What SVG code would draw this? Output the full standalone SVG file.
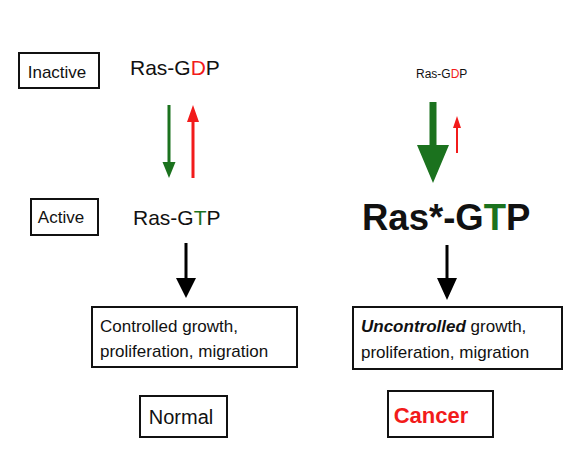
<svg xmlns="http://www.w3.org/2000/svg" width="582" height="469" viewBox="0 0 582 469">
<style>
text{font-family:"Liberation Sans",Arial,sans-serif;fill:#111}
.box{fill:#fff;stroke:#111;stroke-width:2}
.g{fill:#1b721e}
.r{fill:#f21b1b}
.k{fill:#000}
</style>
<rect width="582" height="469" fill="#fff"/>
<g id="inactive-label"><rect class="box" x="19" y="53" width="80" height="35"/><text x="57" y="78" font-size="17" text-anchor="middle">Inactive</text></g>
<g id="active-label"><rect class="box" x="31" y="199" width="67" height="36"/><text x="61" y="223" font-size="17" text-anchor="middle">Active</text></g>
<g id="ras-gdp-left"><text x="130" y="75" font-size="21">Ras-G<tspan fill="#f21b1b">D</tspan>P</text></g>
<g id="ras-gtp-left"><text x="133" y="225" font-size="21">Ras-G<tspan fill="#1b721e">T</tspan>P</text></g>
<g id="ras-gdp-right"><text x="416" y="78" font-size="12">Ras-G<tspan fill="#f21b1b">D</tspan>P</text></g>
<g id="ras-gtp-right"><text x="362" y="230" font-size="36.5" font-weight="bold">Ras*-G<tspan fill="#1b721e">T</tspan>P</text></g>
<g id="controlled"><rect class="box" x="92" y="307" width="205" height="60"/><text x="100" y="332" font-size="17">Controlled growth,</text><text x="100" y="357" font-size="17">proliferation, migration</text></g>
<g id="uncontrolled"><rect class="box" x="353" y="307" width="209" height="62"/><text x="361" y="332" font-size="17"><tspan font-style="italic" font-weight="bold">Uncontrolled</tspan> growth,</text><text x="361" y="358" font-size="17">proliferation, migration</text></g>
<g id="normal"><rect class="box" x="140" y="396" width="87" height="41"/><text x="181" y="424" font-size="20" text-anchor="middle">Normal</text></g>
<g id="cancer"><rect class="box" x="388" y="391" width="105" height="46"/><text x="431" y="423" font-size="22" font-weight="bold" text-anchor="middle" style="fill:#f21b1b">Cancer</text></g>
<g id="connectors">
<polygon class="g" points="167.5,105 170.5,105 170.5,162 175.5,162 169,178 162.5,162 167.5,162"/>
<polygon class="r" points="191.5,178 194.5,178 194.5,122 199,122 193,105 187,122 191.5,122"/>
<polygon class="g" points="429.5,102 436.5,102 436.5,145 449,145 433,183 417,145 429.5,145"/>
<polygon class="r" points="456,153 458,153 458,128 461,128 457,116 453,128 456,128"/>
<polygon class="k" points="184.5,243 187.5,243 187.5,278 196,278 186,298 176,278 184.5,278"/>
<polygon class="k" points="445.5,245 448.5,245 448.5,278 457,278 447,300 437,278 445.5,278"/>
</g>
</svg>
